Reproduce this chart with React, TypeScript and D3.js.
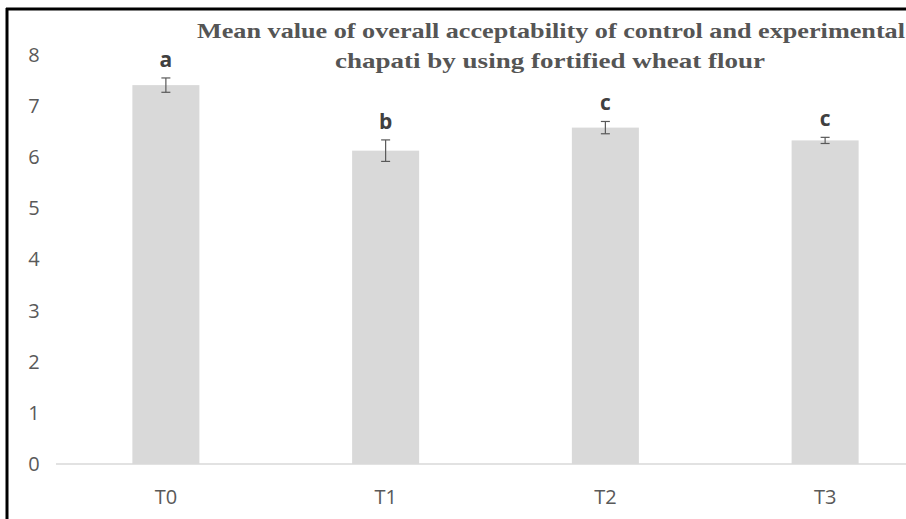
import React from "react";
import * as d3 from "d3";

const categories = ["T0", "T1", "T2", "T3"];
const means = [7.4, 6.12, 6.57, 6.32];
const errors = [0.14, 0.21, 0.12, 0.06];
const letters = ["a", "b", "c", "c"];
const yTicks = [0, 1, 2, 3, 4, 5, 6, 7, 8];
const titleLines = [
  "Mean value of overall acceptability of control and experimental",
  "chapati by using fortified wheat flour",
];

const W = 906;
const H = 519;

export default function App() {
  const x = d3.scaleBand<string>().domain(categories).range([56, 935]).paddingInner(0.695).paddingOuter(0.3475);
  const y = d3.scaleLinear().domain([0, 8]).range([464, 54.4]);
  const bw = x.bandwidth();
  const sans = "'Open Sans', 'Noto Sans', sans-serif";
  const serif = "'Liberation Serif', 'Times New Roman', serif";

  return (
    <svg width={W} height={H} style={{ position: "absolute", left: 0, top: 0, background: "#fff" }}>
      <rect x={0} y={0} width={W} height={H} fill="#fff" />
      {/* frame */}
      <line x1={7} y1={8} x2={7} y2={H} stroke="#000" strokeWidth={3} />
      <line x1={6} y1={9} x2={W} y2={9} stroke="#000" strokeWidth={3} />

      {/* y axis labels */}
      {yTicks.map((t) => (
        <text key={t} x={34} y={y(t)} dy="0.36em" textAnchor="middle" fontFamily={sans} fontSize={20} fill="#595959">
          {t}
        </text>
      ))}

      {/* bars */}
      {categories.map((c, i) => (
        <rect key={c} x={x(c)!} y={y(means[i])} width={bw} height={y(0) - y(means[i])} fill="#d9d9d9" />
      ))}

      {/* baseline */}
      <line x1={56} x2={W} y1={y(0)} y2={y(0)} stroke="#d9d9d9" strokeWidth={1.5} />

      {/* error bars */}
      {categories.map((c, i) => {
        const cx = x(c)! + bw / 2;
        const top = y(means[i] + errors[i]);
        const bot = y(means[i] - errors[i]);
        return (
          <g key={c} stroke="#595959" strokeWidth={1.2}>
            <line x1={cx} x2={cx} y1={top} y2={bot} />
            <line x1={cx - 4.5} x2={cx + 4.5} y1={top} y2={top} />
            <line x1={cx - 4.5} x2={cx + 4.5} y1={bot} y2={bot} />
          </g>
        );
      })}

      {/* significance letters */}
      {categories.map((c, i) => (
        <text
          key={c}
          x={x(c)! + bw / 2}
          y={y(means[i] + errors[i]) - 11}
          textAnchor="middle"
          fontFamily={sans}
          fontWeight="bold"
          fontSize={21}
          fill="#404040"
        >
          {letters[i]}
        </text>
      ))}

      {/* x axis labels */}
      {categories.map((c) => (
        <text key={c} x={x(c)! + bw / 2} y={504} textAnchor="middle" fontFamily={sans} fontSize={20} fill="#595959">
          {c}
        </text>
      ))}

      {/* title */}
      <text x={551} y={38} textAnchor="middle" fontFamily={serif} fontWeight="bold" fontSize={22} fill="#555" textLength={708} lengthAdjust="spacingAndGlyphs">
        {titleLines[0]}
      </text>
      <text x={550} y={68} textAnchor="middle" fontFamily={serif} fontWeight="bold" fontSize={22} fill="#555" textLength={430} lengthAdjust="spacingAndGlyphs">
        {titleLines[1]}
      </text>
    </svg>
  );
}
